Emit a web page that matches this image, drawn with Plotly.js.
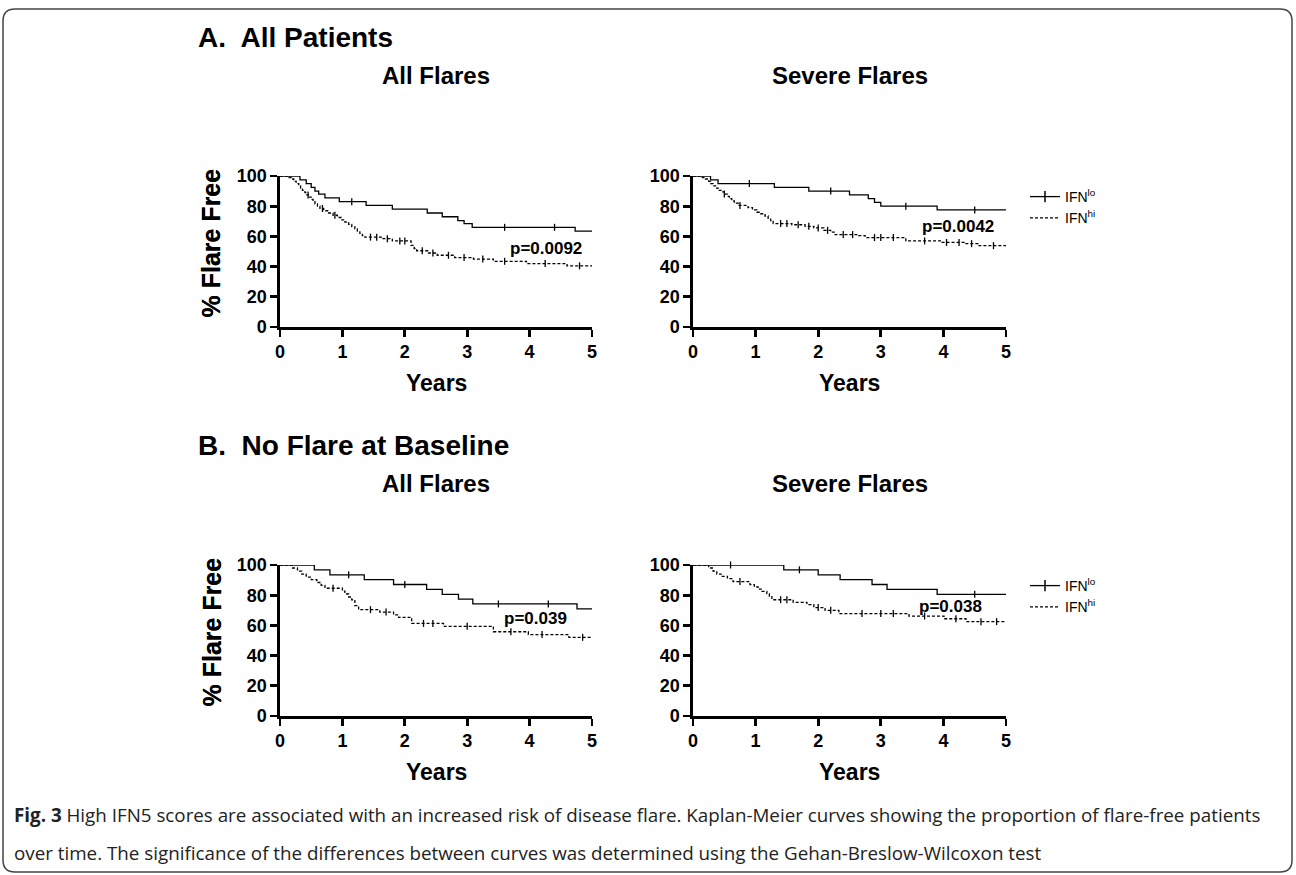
<!DOCTYPE html>
<html><head><meta charset="utf-8">
<script src="https://cdn.plot.ly/plotly-3.0.1.min.js"></script>
<style>html,body{margin:0;padding:0;background:#fff;}#chart{width:1296px;height:875px;}</style>
</head><body><div id="chart"></div>
<script>
// ---------- data ----------
const yearTicks = [0, 1, 2, 3, 4, 5];
const pctTicks = [0, 20, 40, 60, 80, 100];
const groupNames = ['IFN<sup>lo</sup>', 'IFN<sup>hi</sup>'];
const sectionTitles = ['A.  All Patients', 'B.  No Flare at Baseline'];
const panelTitles = ['All Flares', 'Severe Flares'];
const pValues = ['p=0.0092', 'p=0.0042', 'p=0.039', 'p=0.038'];
const pValueX = [4.87, 4.84, 4.63, 4.65];
const pValueY = [52, 66.4, 64.5, 72.5];

// A: all patients, all flares
const a1LoTimes = [0.32, 0.42, 0.5, 0.56, 0.62, 0.72, 0.95, 1.38, 1.8, 2.36, 2.6, 2.85, 2.95, 3.08, 4.73];
const a1LoSurv  = [97.5, 95, 92.5, 90, 88, 85.5, 83, 80.5, 78, 75.5, 73, 70.5, 68.5, 66, 63.5];
const a1LoCens  = [1.15, 3.6, 4.4];
const a1HiTimes = [0.13,0.18,0.22,0.26,0.3,0.33,0.36,0.4,0.43,0.47,0.5,0.53,0.56,0.6,0.64,0.7,0.78,0.85,0.92,0.98,1.04,1.1,1.15,1.2,1.24,1.28,1.32,1.36,1.62,1.8,2.1,2.15,2.19,2.38,2.52,2.8,3.1,3.42,3.95,4.6];
const a1HiSurv  = [99,98,96.5,95,93.5,92,90.5,89,87.5,86,84.5,83,81.5,80,78.5,77,75.5,74,72.5,71,69.5,68,66.5,65,63.5,62,60.5,59.5,58.5,57,54,52,50.5,49,47.5,46,45,43.5,42,40.5];
const a1HiCens  = [0.45,0.68,0.88,1.45,1.55,1.72,1.92,2.0,2.28,2.45,2.7,2.95,3.25,3.6,4.25,4.8];

// A: all patients, severe flares
const a2LoTimes = [0.28, 0.4, 1.3, 1.85, 2.5, 2.8, 2.9, 3.0, 3.9];
const a2LoSurv  = [97.5, 95, 92.5, 90, 87.5, 85, 82.5, 80, 77.5];
const a2LoCens  = [0.9, 2.2, 3.4, 4.5];
const a2HiTimes = [0.15,0.2,0.25,0.28,0.32,0.36,0.4,0.45,0.5,0.55,0.58,0.62,0.66,0.72,0.88,0.95,1.02,1.08,1.15,1.2,1.24,1.28,1.58,1.79,1.93,2.09,2.2,2.27,2.65,2.75,3.4,3.98,4.33,4.55];
const a2HiSurv  = [99,98,96.5,95,93.5,92,90.5,89.5,88,86.5,85,83.5,82,80.5,79,77.5,76,75,73.5,72,70.5,68.5,67.7,66.7,65.6,64,62.8,61.2,60.5,59.2,57,56,55.2,53.9];
const a2HiCens  = [0.5,0.75,1.4,1.5,1.68,1.85,2.0,2.15,2.4,2.55,2.9,3.0,3.2,3.7,4.05,4.25,4.45,4.8];

// B: no flare at baseline, all flares
const b1LoTimes = [0.55, 0.8, 1.35, 1.82, 2.35, 2.6, 2.86, 3.09, 4.76];
const b1LoSurv  = [96.8, 93.5, 90.3, 87.1, 83.9, 80.6, 77.4, 74.2, 71];
const b1LoCens  = [1.1, 2.0, 3.5, 4.3];
const b1HiTimes = [0.2,0.28,0.35,0.42,0.5,0.59,0.66,0.72,1.0,1.04,1.1,1.15,1.2,1.26,1.6,1.82,1.9,2.11,2.62,3.42,3.98,4.63];
const b1HiSurv  = [98,96,94,92,90.3,88.4,86.5,84.6,82.7,80.8,78.8,76.9,73.1,70.4,68.8,67,65.3,61.3,59.4,55.8,53.9,52.1];
const b1HiCens  = [0.85,1.45,1.7,2.3,2.45,3.0,3.7,4.2,4.85];

// B: no flare at baseline, severe flares
const b2LoTimes = [1.45, 2.0, 2.35, 2.86, 3.1, 3.9];
const b2LoSurv  = [96.8, 93.5, 90.3, 87.1, 83.9, 80.6];
const b2LoCens  = [0.6, 1.7, 4.5];
const b2HiTimes = [0.25,0.32,0.38,0.45,0.55,0.64,0.91,0.98,1.04,1.1,1.18,1.22,1.26,1.6,1.82,1.93,2.11,2.33,3.45,4.01,4.36];
const b2HiSurv  = [98,96,94,92.5,91,89,87,85.5,84,82.5,81,79,77,75.3,73.8,71.8,70,67.8,66.2,64.4,62.5];
const b2HiCens  = [0.75,1.4,1.5,2.0,2.2,2.7,3.0,3.2,3.7,4.2,4.6,4.85];

// ---------- build ----------
const W = 1296, H = 875;
const FONT = 'Liberation Sans, Arial, sans-serif';
const px = v => v / W, py = v => 1 - v / H;

function stepXY(times, surv) {
  return { x: [0].concat(times, [5]), y: [100].concat(surv, [surv[surv.length - 1]]) };
}
function survAt(times, surv, t) {
  let s = 100;
  for (let i = 0; i < times.length; i++) if (times[i] <= t) s = surv[i];
  return s;
}
const loLine = { color: '#000', width: 1.3, shape: 'hv' };
const hiLine = { color: '#000', width: 1.3, shape: 'hv', dash: '3px,2px' };
const censMarker = { symbol: 'line-ns-open', size: 5, color: '#000', line: { color: '#000', width: 1.3 } };

const panels = [
  { lo: [a1LoTimes, a1LoSurv, a1LoCens], hi: [a1HiTimes, a1HiSurv, a1HiCens] },
  { lo: [a2LoTimes, a2LoSurv, a2LoCens], hi: [a2HiTimes, a2HiSurv, a2HiCens] },
  { lo: [b1LoTimes, b1LoSurv, b1LoCens], hi: [b1HiTimes, b1HiSurv, b1HiCens] },
  { lo: [b2LoTimes, b2LoSurv, b2LoCens], hi: [b2HiTimes, b2HiSurv, b2HiCens] }
];
// pixel boxes of plot areas [left, right, top(100), bottom(0)]
const boxes = [[280, 592, 176, 327], [693, 1006, 176, 327], [280, 592, 565, 716], [693, 1006, 565, 716]];

const traces = [];
const layout = {
  width: W, height: H, margin: { l: 0, r: 0, t: 0, b: 0 },
  paper_bgcolor: '#fff', plot_bgcolor: '#fff',
  font: { family: FONT, color: '#000' },
  showlegend: true,
  annotations: [], shapes: []
};

panels.forEach((p, i) => {
  const sfx = i === 0 ? '' : String(i + 1);
  const xa = 'x' + sfx, ya = 'y' + sfx;
  const [l, r, t, b] = boxes[i];
  const axCommon = {
    showline: true, linewidth: 2.6, linecolor: '#000', ticks: 'outside', ticklen: 7,
    tickwidth: 2.6, tickcolor: '#000', showgrid: false, zeroline: false, fixedrange: true,
    tickfont: { family: FONT, size: 18, weight: 'bold', color: '#000' }
  };
  layout['xaxis' + sfx] = Object.assign({}, axCommon, {
    domain: [px(l), px(r)], anchor: ya, range: [0, 5], tickvals: yearTicks, ticktext: yearTicks.map(String)
  });
  layout['yaxis' + sfx] = Object.assign({}, axCommon, {
    domain: [py(b), py(t)], anchor: xa, range: [0, 100], tickvals: pctTicks, ticktext: pctTicks.map(String)
  });
  [['lo', loLine], ['hi', hiLine]].forEach(([g, ln]) => {
    const [tm, sv, cs] = p[g];
    const s = stepXY(tm, sv);
    traces.push({ type: 'scatter', mode: 'lines', x: s.x, y: s.y, xaxis: xa, yaxis: ya, line: ln,
      showlegend: false, hoverinfo: 'skip', cliponaxis: false });
    traces.push({ type: 'scatter', mode: 'markers', x: cs, y: cs.map(c => survAt(tm, sv, c)),
      xaxis: xa, yaxis: ya, marker: censMarker, showlegend: false, hoverinfo: 'skip', cliponaxis: false });
  });
  // p value
  layout.annotations.push({ xref: xa, yref: ya, x: pValueX[i], y: pValueY[i], text: pValues[i],
    showarrow: false, xanchor: 'right', yanchor: 'middle', font: { family: FONT, size: 17, weight: 'bold' } });
  // axis titles
  layout.annotations.push({ xref: 'paper', yref: 'paper', x: px(211), y: py((t + b) / 2 - 8), text: '% Flare Free',
    textangle: -90, showarrow: false, xanchor: 'center', yanchor: 'middle', font: { family: FONT, size: 25, weight: 'bold' } });
  layout.annotations.push({ xref: 'paper', yref: 'paper', x: px((l + r) / 2), y: py(b + 56), text: 'Years',
    showarrow: false, xanchor: 'center', yanchor: 'middle', font: { family: FONT, size: 23, weight: 'bold' } });
  // panel title
  layout.annotations.push({ xref: 'paper', yref: 'paper', x: px((l + r) / 2), y: py(i < 2 ? 75 : 483),
    text: panelTitles[i % 2], showarrow: false, xanchor: 'center', yanchor: 'middle',
    font: { family: FONT, size: 24, weight: 'bold' } });
});

// legend entries (one legend per section)
['legend', 'legend2'].forEach((lg, k) => {
  const xa = k === 0 ? 'x' : 'x3', ya = k === 0 ? 'y' : 'y3';
  traces.push({ type: 'scatter', mode: 'lines+markers', x: [null], y: [null], xaxis: xa, yaxis: ya,
    name: groupNames[0], legend: lg, line: { color: '#000', width: 1.3 },
    marker: { symbol: 'line-ns-open', size: 8, color: '#000', line: { color: '#000', width: 1.5 } } });
  traces.push({ type: 'scatter', mode: 'lines', x: [null], y: [null], xaxis: xa, yaxis: ya,
    name: groupNames[1], legend: lg, line: { color: '#000', width: 1.3, dash: '3px,2px' } });
});
const legendCommon = { xanchor: 'left', yanchor: 'top', bgcolor: 'rgba(0,0,0,0)', borderwidth: 0,
  font: { family: FONT, size: 14, color: '#000' }, tracegroupgap: 0, itemclick: false, itemdoubleclick: false };
layout.legend = Object.assign({}, legendCommon, { x: px(1025), y: py(181) });
layout.legend2 = Object.assign({}, legendCommon, { x: px(1025), y: py(570) });

// section titles
layout.annotations.push({ xref: 'paper', yref: 'paper', x: px(196), y: py(38), text: sectionTitles[0],
  showarrow: false, xanchor: 'left', yanchor: 'middle', font: { family: FONT, size: 28, weight: 'bold' } });
layout.annotations.push({ xref: 'paper', yref: 'paper', x: px(196), y: py(445), text: sectionTitles[1],
  showarrow: false, xanchor: 'left', yanchor: 'middle', font: { family: FONT, size: 28, weight: 'bold' } });

// caption
const CAP = 'Open Sans, Noto Sans, sans-serif';
layout.annotations.push({ xref: 'paper', yref: 'paper', x: px(12), y: py(815),
  text: '<b>Fig. 3</b> High IFN5 scores are associated with an increased risk of disease flare. Kaplan-Meier curves showing the proportion of flare-free patients',
  showarrow: false, xanchor: 'left', yanchor: 'middle', font: { family: CAP, size: 18.8, color: '#222' } });
layout.annotations.push({ xref: 'paper', yref: 'paper', x: px(12), y: py(853),
  text: 'over time. The significance of the differences between curves was determined using the Gehan-Breslow-Wilcoxon test',
  showarrow: false, xanchor: 'left', yanchor: 'middle', font: { family: CAP, size: 18.8, color: '#222' } });

// rounded frame
(function () {
  const L = 3, R = 1292, T = 9, B = 872, rr = 12;
  const X = v => px(v), Y = v => py(v);
  const path = `M ${X(L + rr)},${Y(T)} L ${X(R - rr)},${Y(T)} Q ${X(R)},${Y(T)} ${X(R)},${Y(T + rr)} ` +
    `L ${X(R)},${Y(B - rr)} Q ${X(R)},${Y(B)} ${X(R - rr)},${Y(B)} L ${X(L + rr)},${Y(B)} ` +
    `Q ${X(L)},${Y(B)} ${X(L)},${Y(B - rr)} L ${X(L)},${Y(T + rr)} Q ${X(L)},${Y(T)} ${X(L + rr)},${Y(T)} Z`;
  layout.shapes.push({ type: 'path', xref: 'paper', yref: 'paper', path: path,
    line: { color: '#444', width: 1.5 }, fillcolor: 'rgba(0,0,0,0)', layer: 'below' });
})();

Plotly.newPlot('chart', traces, layout, { staticPlot: true, displayModeBar: false });
</script>
</body></html>
